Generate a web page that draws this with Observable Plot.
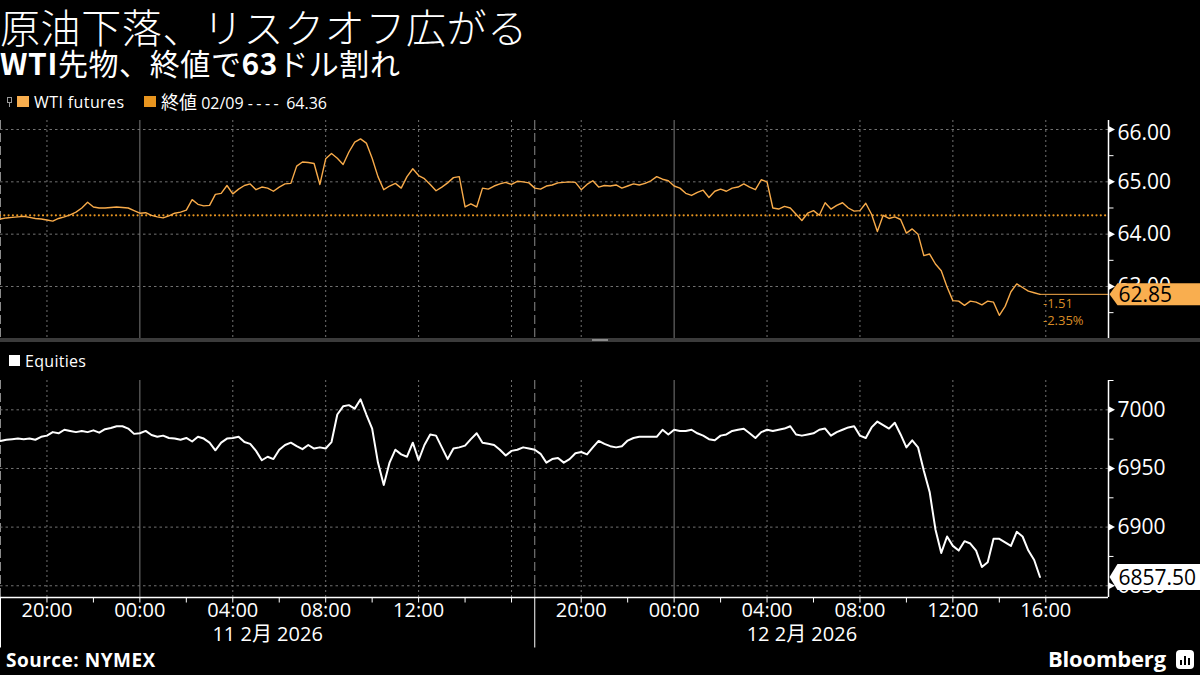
<!DOCTYPE html>
<html><head><meta charset="utf-8">
<script src="https://cdn.jsdelivr.net/npm/d3@7"></script>
<script src="https://cdn.jsdelivr.net/npm/@observablehq/plot@0.6"></script>
<style>
html,body{margin:0;padding:0;background:#000;}
#wrap{position:relative;width:1200px;height:675px;background:#000;overflow:hidden;color:#fff;font-family:"Open Sans","Noto Sans CJK JP",sans-serif;}
.abs{position:absolute;white-space:nowrap;}
#title{left:0;top:6px;font-family:"Noto Sans CJK JP";font-weight:300;font-size:40px;line-height:1;letter-spacing:0.6px;}
#subtitle{left:0;top:47px;font-family:"Noto Sans CJK JP";font-weight:400;font-size:30px;line-height:1;letter-spacing:0.6px;}
#subtitle b{font-weight:700;}
.leg{font-size:16px;line-height:20px;}
.sq{position:absolute;}
#topPanel{left:0;top:110px;}
#botPanel{left:0;top:370px;}
#sep{left:0;top:338px;width:1200px;height:4px;background:#3b3b3b;}
#handle{left:592px;top:339px;width:16px;height:2px;background:#8a8a8a;}
#source{left:6px;top:651px;font-weight:700;font-size:19px;line-height:1;letter-spacing:0.5px;}
#brand{left:1048px;top:647px;font-weight:700;font-size:22px;line-height:1;letter-spacing:-0.2px;}
#logo{left:1176px;top:650px;width:18px;height:19px;background:#fff;border-radius:4px;}
#logo i{position:absolute;bottom:4px;width:2px;background:#000;}
</style></head>
<body><div id="wrap">
<div class="abs" id="title">原油下落、リスクオフ広がる</div>
<div class="abs" id="subtitle"><b>WTI</b>先物、終値で<b>63</b>ドル割れ</div>
<div class="abs leg" style="left:0;top:92px;width:400px;height:20px;">
  <div class="sq" style="left:7px;top:5px;width:3px;height:4px;border:1px solid #9a9a9a;"></div>
  <div class="sq" style="left:9px;top:11px;width:1px;height:4px;background:#9a9a9a;"></div>
  <div class="sq" style="left:17px;top:4px;width:12px;height:11px;background:#f8ae4e;"></div>
  <span class="abs" style="left:34px;top:0;letter-spacing:0.4px;">WTI futures</span>
  <div class="sq" style="left:144px;top:4px;width:12px;height:11px;background:#e8951f;"></div>
  <span class="abs" style="left:161px;top:0;"><span style="font-size:18px">終値</span> 02/09 <span style="letter-spacing:3.4px">----</span> 64.36</span>
</div>
<div class="abs leg" style="left:0;top:351px;width:200px;height:20px;">
  <div class="sq" style="left:9px;top:4px;width:11px;height:11px;background:#fff;"></div>
  <span class="abs" style="left:25px;top:0;letter-spacing:0.3px;">Equities</span>
</div>
<div class="abs" id="topPanel"></div>
<div class="abs" id="botPanel"></div>
<div class="abs" id="sep"></div>
<div class="abs" id="handle"></div>
<div class="abs" id="source">Source: NYMEX</div>
<div class="abs" id="brand">Bloomberg</div>
<div class="abs" id="logo"><i style="left:4px;height:5px"></i><i style="left:8px;height:9px"></i><i style="left:12px;height:7px"></i></div>
</div>
<script>
// ---- data (time axis = trading hours since 18:00 ET, 10 Feb 2026; the 17:00-18:00 break is skipped) ----
const X_MAX = 47.7;            // right end of the time axis
const STEP_H = 0.25;           // 15-minute sampling
const oilPrice = [
64.29,64.31,64.32,64.33, 64.34,64.32,64.30,64.29, 64.27,64.25,64.30,64.33, 64.37,64.42,64.50,64.61,
64.52,64.50,64.50,64.51, 64.52,64.51,64.50,64.45, 64.40,64.41,64.36,64.33, 64.31,64.35,64.40,64.42,
64.46,64.66,64.57,64.54, 64.55,64.76,64.78,64.93, 64.77,64.86,64.93,64.96, 64.85,64.90,64.88,64.82,
64.90,64.96,64.97,65.30, 65.38,65.37,65.35,64.95, 65.44,65.54,65.45,65.33, 65.57,65.76,65.82,65.74,
65.45,65.10,64.85,64.92, 64.97,64.88,65.10,65.25, 65.12,65.06,64.95,64.83, 64.90,64.98,65.08,65.10,
64.52,64.58,64.52,64.88, 64.86,64.92,64.96,64.99, 64.95,65.01,65.00,64.98, 64.88,64.86,64.92,64.94,
64.98,64.99,65.00,64.99, 64.85,64.95,65.02,64.90, 64.93,64.92,64.94,64.88, 64.92,64.96,64.94,64.97,
65.02,65.10,65.05,65.02, 64.92,64.88,64.78,64.74, 64.80,64.84,64.70,64.82, 64.86,64.82,64.88,64.90,
64.96,64.90,64.85,65.04, 65.00,64.50,64.48,64.53, 64.50,64.38,64.26,64.40, 64.45,64.36,64.60,64.48,
64.55,64.60,64.50,64.44, 64.45,64.59,64.38,64.05, 64.36,64.30,64.33,64.28, 64.02,64.10,64.00,63.59,
63.62,63.43,63.30,62.99, 62.73,62.72,62.64,62.72, 62.70,62.65,62.72,62.70, 62.45,62.62,62.90,63.05,
62.98,62.91,62.88,62.85
];
const esPrice = [
6973.5,6974.5,6975,6975.5, 6975,6975.5,6974.5,6977, 6978,6981,6980,6983, 6982,6981,6982,6981,
6982.5,6980.5,6983.5,6984.5, 6986,6986,6984,6979.5, 6980,6982,6978.5,6977, 6978,6976,6975.5,6974.5,
6976,6973,6977,6975.5, 6972,6965.5,6972,6975.5, 6976,6977,6972.5,6971, 6965,6957,6960,6958,
6966,6970,6972,6969, 6966.5,6970,6967,6968, 6967,6972.5,6996,7003, 7004,7001,7009,6996,
6984,6955,6936,6955, 6966,6962,6960,6972, 6957,6970,6979,6978, 6968,6958,6967,6968,
6969.5,6975,6980,6972, 6971,6970,6966,6961, 6965,6966,6968,6967, 6966,6962.5,6955,6958,
6959,6955,6958,6963, 6964,6962,6968,6973.5, 6971,6969,6968,6969, 6973.8,6976,6977,6977,
6977,6977,6983,6979, 6983,6982,6982,6983, 6980,6978,6975,6974, 6978,6979,6982,6983,
6983.8,6980,6976,6981, 6983,6982,6983,6984, 6986,6979,6978,6979, 6980,6983,6984,6978,
6981,6983,6985,6986, 6978,6976,6985,6990, 6987,6984,6989,6979, 6968,6974,6968,6948,
6930,6898,6878,6892, 6884,6880,6888,6886, 6880,6866,6870,6890, 6890,6887,6884,6896,
6892,6880,6872,6857.5
];
const oilPrevClose = 64.36;
const oilLast = 62.85;
const oilChangeTexts = ["-1.51", "-2.35%"];
const esLast = 6857.50;
const oilTicks = [63, 64, 65, 66];
const oilMinorTicks = [62.5, 63.5, 64.5, 65.5];
const esTicks = [6850, 6900, 6950, 7000];
const esMinorTicks = [6875, 6925, 6975, 7025];
const oilDomain = [62.006, 66.172];
const esDomain = [6840, 7025];
const xTickHours = [2, 6, 10, 14, 18, 25, 29, 33, 37, 41, 45];
const xTickLabels = ["20:00","00:00","04:00","08:00","12:00","20:00","00:00","04:00","08:00","12:00","16:00"];
const xMinorHours = [2,4,6,8,10,12,14,16,18,20,22,25,27,29,31,33,35,37,39,41,43,45];
const gridHours = [2, 10, 14, 18, 22, 25, 33, 37, 41, 45];
const midnightHours = [6, 29];
const sessionStartHours = [0, 23];
const dateLabels = ["11 2月 2026", "12 2月 2026"];
const dateCenterHours = [11.5, 34.5];

// ---- build ----
const oilSeries = oilPrice.map((v, i) => ({h: i * STEP_H, v}));
const esSeries = esPrice.map((v, i) => ({h: i * STEP_H, v}));
const lastH = (oilPrice.length - 1) * STEP_H;
const xTicks = xTickHours.map((h, i) => ({h, label: xTickLabels[i]}));
const dates = dateLabels.map((label, i) => ({h: dateCenterHours[i], label}));

const FONT = "Open Sans, Noto Sans CJK JP, sans-serif";
const GRID = "#727272";
const triSym = {draw(c){c.moveTo(0,-3.5);c.lineTo(6.5,0);c.lineTo(0,3.5);c.closePath();}};
const hTickSym = {draw(c){c.moveTo(0,0);c.lineTo(5,0);}};
const vTickSym = {draw(c){c.moveTo(0,0);c.lineTo(0,5);}};
const vDivSym = {draw(c){c.moveTo(0,0);c.lineTo(0,50);}};
const tagSym = (hh) => ({draw(c){c.moveTo(1,0);c.lineTo(9,-hh/2);c.lineTo(130,-hh/2);c.lineTo(130,hh/2);c.lineTo(9,hh/2);c.closePath();}});

const common = {width: 1200, marginLeft: 0, marginRight: 92,
  x: {domain: [0, X_MAX], axis: null},
  style: {background: "transparent", overflow: "visible"}};

const vGrid = () => [
  Plot.ruleX(gridHours, {stroke: GRID, strokeDasharray: "2,3"}),
  Plot.ruleX(midnightHours, {stroke: "#7a7a7a"}),
  Plot.ruleX(sessionStartHours, {stroke: "#8a8a8a", strokeDasharray: "9,4"})
];

const topPlot = Plot.plot({
  ...common, height: 240, marginTop: 10, marginBottom: 12,
  y: {domain: oilDomain, axis: null},
  marks: [
    ...vGrid(),
    Plot.ruleY(oilTicks, {stroke: GRID, strokeDasharray: "2.5,3"}),
    Plot.ruleY([oilPrevClose], {stroke: "#e8951f", strokeWidth: 2.2, strokeDasharray: "0,4.3", strokeLinecap: "round"}),
    Plot.line(oilSeries, {x: "h", y: "v", stroke: "#f8ab4a", strokeWidth: 1.4}),
    Plot.ruleY([oilLast], {x1: lastH, x2: X_MAX, stroke: "#f8ab4a", strokeWidth: 1}),
    Plot.text(oilChangeTexts, {x: () => lastH, y: () => oilLast, dx: 3, dy: 9.5, text: d => d, filter: (d, i) => i === 0, textAnchor: "start", fill: "#d98c26", fontSize: 13, fontFamily: FONT}),
    Plot.text(oilChangeTexts, {x: () => lastH, y: () => oilLast, dx: 3, dy: 26.5, text: d => d, filter: (d, i) => i === 1, textAnchor: "start", fill: "#d98c26", fontSize: 13, fontFamily: FONT}),
    Plot.ruleX([X_MAX], {stroke: "white", strokeWidth: 1.5}),
    Plot.dot(oilMinorTicks, {x: () => X_MAX, y: d => d, symbol: hTickSym, stroke: "white", fill: "none", strokeWidth: 1}),
    Plot.dot(oilTicks, {x: () => X_MAX, y: d => d, symbol: triSym, fill: "white", stroke: "none"}),
    Plot.text(oilTicks, {x: () => X_MAX, y: d => d, filter: d => d !== 66, dx: 9, text: d => d.toFixed(2), textAnchor: "start", fill: "white", fontSize: 21, fontFamily: FONT}),
    Plot.text(oilTicks, {x: () => X_MAX, y: d => d, filter: d => d === 66, dx: 9, dy: 4, text: d => d.toFixed(2), textAnchor: "start", fill: "white", fontSize: 21, fontFamily: FONT}),
    Plot.dot([oilLast], {x: () => X_MAX, y: d => d, symbol: tagSym(22), fill: "#f9ae4f", stroke: "none"}),
    Plot.text([oilLast], {x: () => X_MAX, y: d => d, dx: 10, dy: 1, text: d => d.toFixed(2), textAnchor: "start", fill: "black", fontSize: 21, fontFamily: FONT})
  ]
});
document.getElementById("topPanel").append(topPlot);

const botPlot = Plot.plot({
  ...common, height: 297, marginTop: 10, marginBottom: 70,
  y: {domain: esDomain, axis: null},
  marks: [
    ...vGrid(),
    Plot.ruleY(esTicks, {stroke: GRID, strokeDasharray: "2.5,3"}),
    Plot.line(esSeries, {x: "h", y: "v", stroke: "white", strokeWidth: 2}),
    Plot.ruleX([X_MAX], {stroke: "white", strokeWidth: 1.5}),
    Plot.ruleY([esDomain[0]], {stroke: "white", strokeWidth: 1.5}),
    Plot.dot(esMinorTicks, {x: () => X_MAX, y: d => d, symbol: hTickSym, stroke: "white", fill: "none", strokeWidth: 1}),
    Plot.dot(esTicks, {x: () => X_MAX, y: d => d, symbol: triSym, fill: "white", stroke: "none"}),
    Plot.text(esTicks, {x: () => X_MAX, y: d => d, dx: 9, text: d => String(d), textAnchor: "start", fill: "white", fontSize: 21, fontFamily: FONT}),
    Plot.dot(xMinorHours, {x: d => d, y: () => esDomain[0], symbol: vTickSym, stroke: "white", fill: "none", strokeWidth: 1}),
    Plot.dot(sessionStartHours, {x: d => d, y: () => esDomain[0], symbol: vDivSym, stroke: "white", fill: "none", strokeWidth: 1}),
    Plot.text(xTicks, {x: "h", y: () => esDomain[0], dy: 13, text: "label", fill: "white", fontSize: 20, fontFamily: FONT}),
    Plot.text(dates, {x: "h", y: () => esDomain[0], dy: 37, text: "label", fill: "white", fontSize: 20, fontFamily: FONT}),
    Plot.dot([esLast], {x: () => X_MAX, y: d => d, symbol: tagSym(26), fill: "white", stroke: "none"}),
    Plot.text([esLast], {x: () => X_MAX, y: d => d, dx: 10, dy: 1, text: d => d.toFixed(2), textAnchor: "start", fill: "black", fontSize: 21, fontFamily: FONT})
  ]
});
document.getElementById("botPanel").append(botPlot);
</script>
</body></html>
